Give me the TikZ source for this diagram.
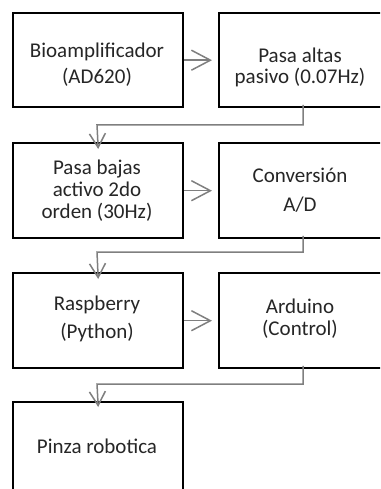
\documentclass[tikz,border=0pt]{standalone}
\usepackage{fontspec}
\setmainfont{Carlito}
\usetikzlibrary{arrows.meta}
\definecolor{txt}{HTML}{262626}
\definecolor{conn}{HTML}{7F7F7F}
\begin{document}
\begin{tikzpicture}[x=1pt,y=-1pt,
  blk/.style={draw=black, line width=2.4pt, fill=white},
  lbl/.style={anchor=base, inner sep=0pt, text=txt, font=\fontsize{21}{24}\selectfont},
  conline/.style={draw=conn, line width=1.5pt},
  arr/.style={conline, -{Straight Barb[length=19pt,width=20pt,line width=1.5pt]}},
  varr/.style={conline, -{Straight Barb[length=14pt,width=16pt,line width=1.5pt]}}]
\useasboundingbox (0,0) rectangle (380,489);
\clip (0,0) rectangle (380,489);
% boxes
\node[blk, minimum width=170pt, minimum height=94pt, anchor=north west] (b1) at (12,12) {};
\node[blk, minimum width=164pt, minimum height=94pt, anchor=north west] (b2) at (218,12) {};
\node[blk, minimum width=170pt, minimum height=95pt, anchor=north west] (b3) at (12,142) {};
\node[blk, minimum width=164pt, minimum height=95pt, anchor=north west] (b4) at (218,142) {};
\node[blk, minimum width=170pt, minimum height=95pt, anchor=north west] (b5) at (12,272) {};
\node[blk, minimum width=164pt, minimum height=95pt, anchor=north west] (b6) at (218,272) {};
\node[blk, minimum width=170pt, minimum height=96pt, anchor=north west] (b7) at (12,401) {};
% texts
\node[lbl] (t1a) at (97,58) {Bioamplificador};
\node[lbl] (t1b) at (97,84) {(AD620)};
\node[lbl] (t2a) at (300,63) {Pasa altas};
\node[lbl] (t2b) at (300,84) {pasivo (0.07Hz)};
\node[lbl] (t3a) at (97,174) {Pasa bajas};
\node[lbl] (t3b) at (97,196) {activo 2do};
\node[lbl] (t3c) at (97,218) {orden (30Hz)};
\node[lbl] (t4a) at (300,182) {Conversión};
\node[lbl] (t4b) at (300,211) {A/D};
\node[lbl] (t5a) at (97,310) {Raspberry};
\node[lbl] (t5b) at (97,338) {(Python)};
\node[lbl] (t6a) at (300,313) {Arduino};
\node[lbl] (t6b) at (300,335) {(Control)};
\node[lbl] (t7a) at (97,453) {Pinza robotica};
% connectors
\coordinate (e1) at (303,106);
\coordinate (e2) at (303,237);
\coordinate (e3) at (303,367);
\draw[arr] (b1.east) -- ([xshift=-6pt]b2.west);
\draw[arr] (b3.east) -- ([xshift=-6pt]b4.west);
\draw[arr] (b5.east) -- ([xshift=-6pt]b6.west);
\draw[varr] ([yshift=1.2pt]e1) -- (303,125) -- (97,125) -- ([yshift=-7pt]b3.north);
\draw[varr] ([yshift=1.2pt]e2) -- (303,252) -- (97,252) -- ([yshift=-7pt]b5.north);
\draw[varr] ([yshift=1.2pt]e3) -- (303,384) -- (97,384) -- ([yshift=-6pt]b7.north);
\end{tikzpicture}
\end{document}
